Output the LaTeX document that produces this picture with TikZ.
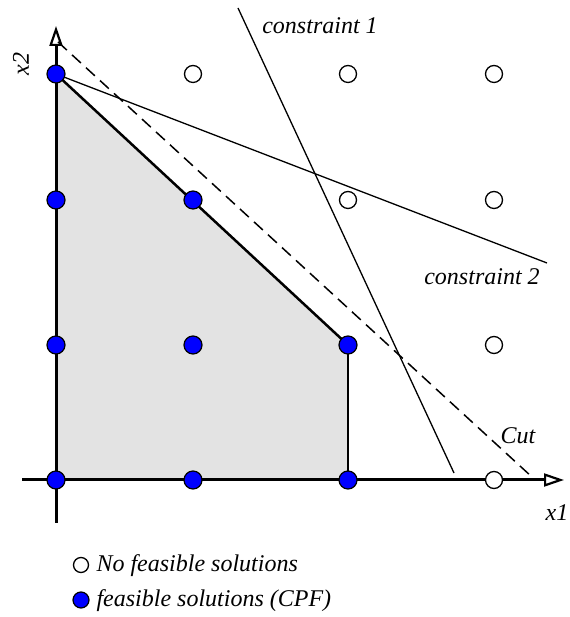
\documentclass[tikz,border=0pt]{standalone}
\usepackage{fontspec}
\setmainfont{Liberation Serif}
\usetikzlibrary{arrows.meta}
\definecolor{cpfblau}{HTML}{0000FF}
\definecolor{zone}{HTML}{E3E3E3}
\tikzset{
  ax/.style={-{Triangle[open,length=20pt,width=13pt,line width=2.2pt]},black,line width=3pt},
  kurve/.style={black,line width=2.5pt},
  rand/.style={black,line width=1.6pt},
  lin/.style={black,line width=1.3pt},
  hilf/.style={black,dash pattern=on 12pt off 7pt,line width=1.5pt},
  cpf/.style={circle,draw=black,line width=1.2pt,fill=cpfblau,inner sep=0pt,minimum size=18pt},
  nofs/.style={circle,draw=black,line width=1.3pt,fill=white,inner sep=0pt,minimum size=17pt},
  lab/.style={font=\fontsize{24}{28}\selectfont\itshape},
}
\begin{document}
\begin{tikzpicture}[x=1pt,y=1pt]
  \useasboundingbox (0,0) rectangle (569,617);
  % grid points
  \foreach \i/\x in {0/56,1/193,2/348,3/494}
    \foreach \j/\y in {0/137,1/272,2/417,3/543}
      \coordinate (g\i\j) at (\x,\y);
  % feasible region
  \fill[zone] (g00) -- (g03) -- (g21) -- (g20) -- cycle;
  \draw[kurve] (g03) -- (g21);
  \draw[rand] (g21) -- (g20);
  % axes
  \coordinate (xa) at (22,137);
  \coordinate (xe) at (564,137);
  \coordinate (ya) at (56,94);
  \coordinate (ye) at (56,591);
  \draw[ax] (xa) -- (xe);
  \draw[ax] (ya) -- (ye);
  \node[lab] (lx1) at (557,104) {x1};
  \node[lab,rotate=90] (lx2) at (21,553) {x2};
  % constraints and cut
  \coordinate (c1a) at (238,609);
  \coordinate (c1b) at (454,144);
  \coordinate (c2b) at (547,354);
  \coordinate (cta) at (58,575);
  \coordinate (ctb) at (532,140);
  \draw[lin] (c1a) -- (c1b);
  \draw[lin] (g03) -- (c2b);
  \draw[hilf] (cta) -- (ctb);
  \node[lab] (lc1) at (320,591) {constraint 1};
  \node[lab] (lc2) at (482,340) {constraint 2};
  \node[lab] (lcut) at (518,181) {Cut};
  % integer points
  \foreach \p in {00,10,20,01,11,21,02,12,03}
    \node[cpf] (p\p) at (g\p) {};
  \foreach \p in {30,31,22,32,13,23,33}
    \node[nofs] (p\p) at (g\p) {};
  % legend
  \node[nofs,minimum size=15pt] (lgo) at (81,52) {};
  \node[lab,anchor=base west] (lgot) at (93,45) {No feasible solutions};
  \node[cpf,minimum size=16pt] (lgb) at (81,17) {};
  \node[lab,anchor=base west] (lgbt) at (93,10) {feasible solutions (CPF)};
\end{tikzpicture}
\end{document}
